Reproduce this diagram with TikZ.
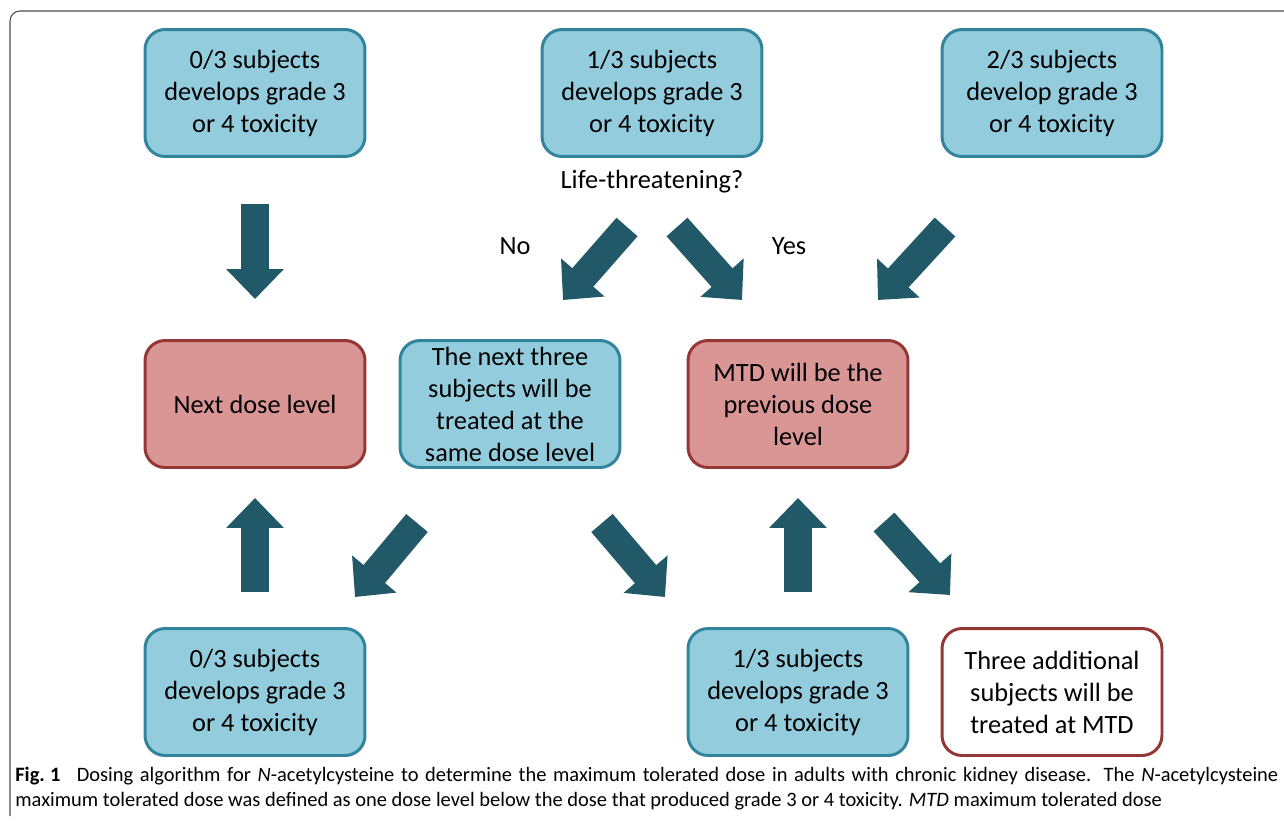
\documentclass[tikz,border=0pt]{standalone}
\usepackage{fontspec}
\setmainfont{Carlito}
\usetikzlibrary{arrows.meta}
\definecolor{boxblue}{HTML}{93CDDD}
\definecolor{edgeblue}{HTML}{31849B}
\definecolor{boxred}{HTML}{D99694}
\definecolor{edgered}{HTML}{953735}
\definecolor{arrteal}{HTML}{215968}
\newcommand{\boxfont}{\fontsize{15}{18.2}\selectfont}
\newcommand{\capfont}{\fontsize{11.65}{14}\selectfont}
\tikzstyle{bx}=[rectangle,rounded corners=.4cm,draw=edgeblue,fill=boxblue,line width=1.7pt,minimum width=4.4cm,minimum height=2.54cm,align=center,inner sep=2pt,font=\boxfont]
\tikzstyle{rbx}=[bx,draw=edgered,fill=boxred]
\tikzstyle{wbx}=[bx,draw=edgered,fill=white]
\tikzstyle{lbl}=[font=\boxfont]
\tikzstyle{arr}=[arrteal,line width=.56cm,-{Triangle[width=1.12cm,length=.6cm]}]

\begin{document}
\begin{tikzpicture}[x=.02cm,y=-.02cm]
\useasboundingbox (0,0) rectangle (1284,822);
\draw[black!70,line width=.6pt,rounded corners=.2cm] (10,816) -- (10,11) -- (1284,11);

% top row
\node[bx] (a1) at (255,93) {0/3 subjects\\develops grade 3\\or 4 toxicity};
\node[bx] (a2) at (652,93) {1/3 subjects\\develops grade 3\\or 4 toxicity};
\node[bx] (a3) at (1052,93) {2/3 subjects\\develop grade 3\\or 4 toxicity};
\node[lbl] (q) at (652,182) {Life-threatening?};
\node[lbl] (no) at (515,246) {No};
\node[lbl] (yes) at (789,246) {Yes};

% middle row
\node[rbx] (b1) at (255,404) {Next dose level};
\node[bx] (b2) at (510,404) {The next three\\subjects will be\\treated at the\\same dose level};
\node[rbx] (b3) at (798,404) {MTD will be the\\previous dose\\level};

% bottom row
\node[bx] (c1) at (255,692) {0/3 subjects\\develops grade 3\\or 4 toxicity};
\node[bx] (c2) at (798,692) {1/3 subjects\\develops grade 3\\or 4 toxicity};
\node[wbx] (c3) at (1052,692) {Three additional\\subjects will be\\treated at MTD};

% arrow ends
\coordinate (n0) at (627,227); \coordinate (n1) at (563,300);
\coordinate (y0) at (677,227); \coordinate (y1) at (742,300);
\coordinate (t0) at (945,227); \coordinate (t1) at (878,300);
\coordinate (l0) at (417,523); \coordinate (l1) at (355,597);
\coordinate (m0) at (602,523); \coordinate (m1) at (665,597);
\coordinate (r0) at (884,522); \coordinate (r1) at (950,595);

\draw[arr,shorten <=.92cm,shorten >=.8cm] (a1) -- (b1);
\draw[arr] (n0) -- (n1);
\draw[arr] (y0) -- (y1);
\draw[arr] (t0) -- (t1);
\draw[arr,shorten <=.7cm,shorten >=.58cm] (c1.north) -- (b1.south);
\draw[arr,shorten <=.7cm,shorten >=.58cm] (c2.north) -- (b3.south);
\draw[arr] (l0) -- (l1);
\draw[arr] (m0) -- (m1);
\draw[arr] (r0) -- (r1);

% caption
\node[anchor=base west,inner sep=0pt,font=\capfont] (cap1) at (15,781) {\makebox[25.26cm][s]{\textbf{Fig.\kern.25em1}\kern.8em Dosing algorithm for \textit{N}-acetylcysteine to determine the maximum tolerated dose in adults with chronic kidney disease. The \textit{N}-acetylcysteine}};
\node[anchor=base west,inner sep=0pt,font=\capfont] (cap2) at (15,806) {maximum tolerated dose was defined as one dose level below the dose that produced grade 3 or 4 toxicity. \textit{MTD} maximum tolerated dose};
\end{tikzpicture}
\end{document}
